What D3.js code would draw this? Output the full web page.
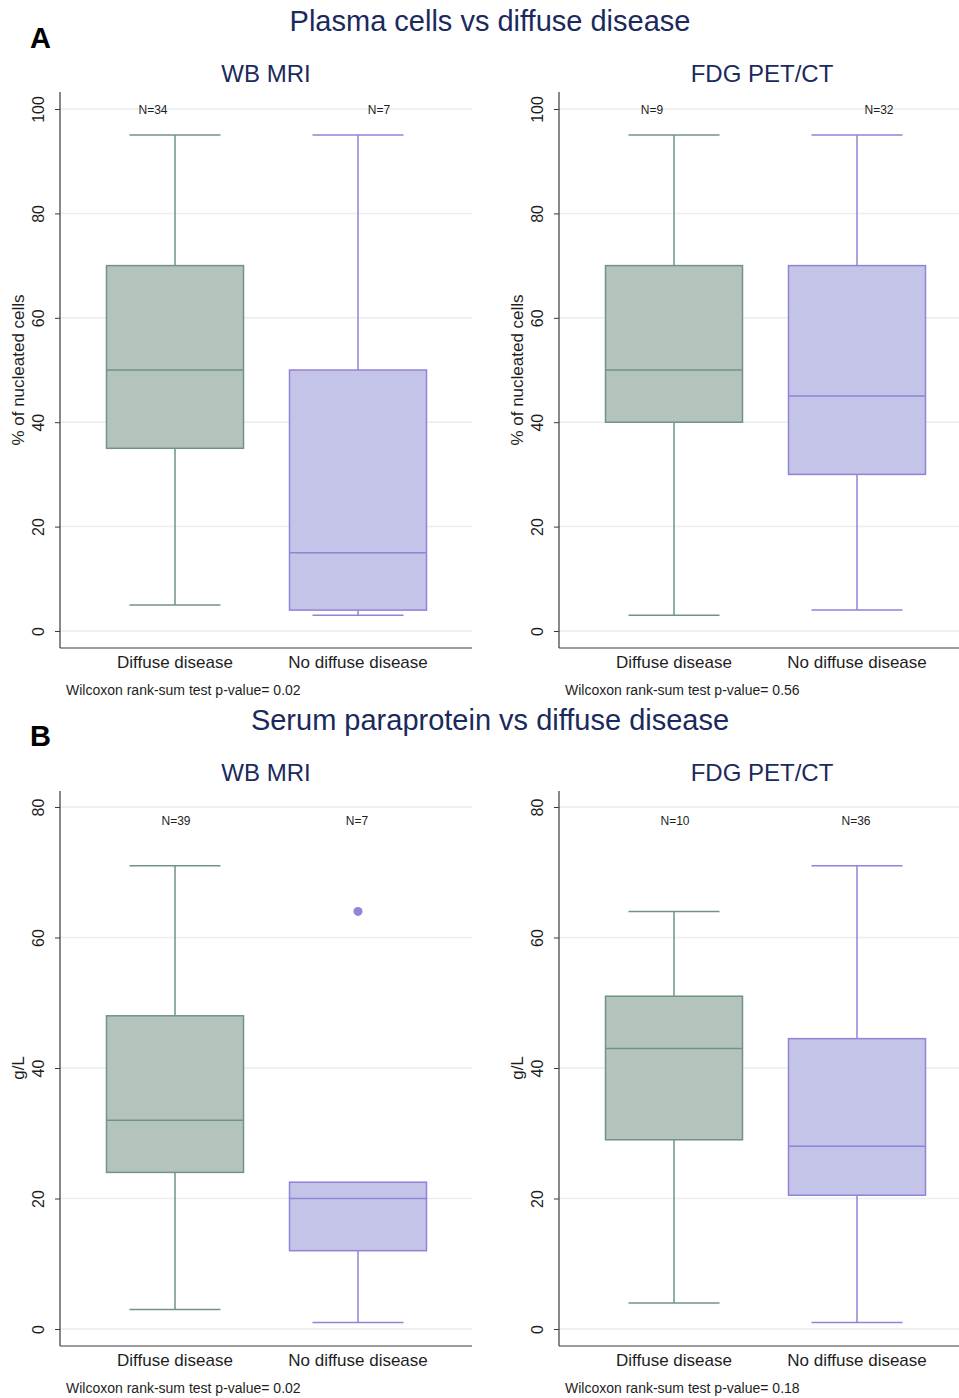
<!DOCTYPE html>
<html>
<head>
<meta charset="utf-8">
<script src="https://cdn.jsdelivr.net/npm/d3@7"></script>
<style>
  body { margin: 0; background: #fff; }
  svg { display: block; font-family: "Liberation Sans", Arial, Helvetica, sans-serif; }
</style>
</head>
<body>
<div id="chart"></div>
<script>
// ---- data ----
const categories = ["Diffuse disease", "No diffuse disease"];

// box stats: [low whisker, q1, median, q3, high whisker]
const plasmaMri = [[5, 35, 50, 70, 95], [3, 4, 15, 50, 95]];
const plasmaPet = [[3, 40, 50, 70, 95], [4, 30, 45, 70, 95]];
const serumMri = [[3, 24, 32, 48, 71], [1, 12, 20, 22.5, 22.5]];
const serumPet = [[4, 29, 43, 51, 64], [1, 20.5, 28, 44.5, 71]];

const serumMriOutliers = [[], [64]];
const noOutliers = [[], []];

const nPlasmaMri = [34, 7];
const nPlasmaPet = [9, 32];
const nSerumMri = [39, 7];
const nSerumPet = [10, 36];

const pPlasmaMri = "0.02";
const pPlasmaPet = "0.56";
const pSerumMri = "0.02";
const pSerumPet = "0.18";

const ticksPlasma = [0, 20, 40, 60, 80, 100];
const ticksSerum = [0, 20, 40, 60, 80];

// ---- style ----
const W = 959, H = 1398;
const FILL = ["#b4c4bc", "#c4c4e8"];
const STROKE = ["#6f9484", "#9282d8"];
const NAVY = "#1b2a5c";
const AXIS = "#3a3a3a";
const GRID = "#e6eef1";
const FONT_TXT = "#1e1e1e";

const svg = d3.select("#chart")
  .append("svg")
  .attr("width", W)
  .attr("height", H)
  .attr("viewBox", `0 0 ${W} ${H}`);

svg.append("rect").attr("width", W).attr("height", H).attr("fill", "#fff");

// section titles and letters
const sections = [
  { letter: "A", title: "Plasma cells vs diffuse disease", letterY: 48, titleY: 31 },
  { letter: "B", title: "Serum paraprotein vs diffuse disease", letterY: 746, titleY: 730 }
];
sections.forEach(s => {
  svg.append("text")
    .attr("x", 30).attr("y", s.letterY)
    .attr("font-size", "29px").attr("font-weight", "bold")
    .attr("fill", "#000")
    .text(s.letter);
  svg.append("text")
    .attr("x", 490).attr("y", s.titleY)
    .attr("text-anchor", "middle")
    .attr("font-size", "29px")
    .attr("fill", NAVY)
    .text(s.title);
});

const panels = [
  { sub: "WB MRI", stats: plasmaMri, out: noOutliers, n: nPlasmaMri, p: pPlasmaMri,
    ticks: ticksPlasma, yMax: 100, ytitle: "% of nucleated cells", subX: 266,
    x0: 60, x1: 472, top: 92, bottom: 648, y0: 631, yTopVal: 109, subY: 82, nY: 114, nDx: [-22, 21] },
  { sub: "FDG PET/CT", stats: plasmaPet, out: noOutliers, n: nPlasmaPet, p: pPlasmaPet,
    ticks: ticksPlasma, yMax: 100, ytitle: "% of nucleated cells", subX: 762,
    x0: 559, x1: 959, top: 92, bottom: 648, y0: 631, yTopVal: 109, subY: 82, nY: 114, nDx: [-22, 22] },
  { sub: "WB MRI", stats: serumMri, out: serumMriOutliers, n: nSerumMri, p: pSerumMri,
    ticks: ticksSerum, yMax: 80, ytitle: "g/L", subX: 266,
    x0: 60, x1: 472, top: 791, bottom: 1346, y0: 1329, yTopVal: 807, subY: 781, nY: 825, nDx: [1, -1] },
  { sub: "FDG PET/CT", stats: serumPet, out: noOutliers, n: nSerumPet, p: pSerumPet,
    ticks: ticksSerum, yMax: 80, ytitle: "g/L", subX: 762,
    x0: 559, x1: 959, top: 791, bottom: 1346, y0: 1329, yTopVal: 807, subY: 781, nY: 825, nDx: [1, -1] }
];

panels.forEach(pn => {
  const g = svg.append("g");

  const y = d3.scaleLinear().domain([0, pn.yMax]).range([pn.y0, pn.yTopVal]);
  const x = d3.scalePoint().domain(categories).range([pn.x0 + 115, pn.x0 + 298]);
  const boxW = 137, capW = 91;

  // subtitle
  g.append("text")
    .attr("x", pn.subX).attr("y", pn.subY)
    .attr("text-anchor", "middle")
    .attr("font-size", "24px")
    .attr("fill", NAVY)
    .text(pn.sub);

  // grid
  g.append("g")
    .selectAll("line")
    .data(pn.ticks)
    .enter()
    .append("line")
    .attr("x1", pn.x0).attr("x2", pn.x1)
    .attr("y1", d => y(d)).attr("y2", d => y(d))
    .attr("stroke", GRID).attr("stroke-width", 1.5);

  // y axis
  const ax = g.append("g")
    .attr("transform", `translate(${pn.x0},0)`)
    .call(d3.axisLeft(y).tickValues(pn.ticks).tickSize(5).tickSizeOuter(0));
  ax.select(".domain").remove();
  ax.selectAll(".tick line").attr("stroke", AXIS);
  ax.selectAll(".tick text")
    .attr("x", null).attr("dy", null)
    .attr("transform", "translate(-16,0) rotate(-90)")
    .attr("text-anchor", "middle")
    .attr("font-size", "16px")
    .attr("font-family", "'Liberation Sans', Arial, sans-serif")
    .attr("fill", FONT_TXT);
  g.append("line")
    .attr("x1", pn.x0).attr("x2", pn.x0)
    .attr("y1", pn.top).attr("y2", pn.bottom)
    .attr("stroke", AXIS).attr("stroke-width", 1.2);
  g.append("line")
    .attr("x1", pn.x0).attr("x2", pn.x1)
    .attr("y1", pn.bottom).attr("y2", pn.bottom)
    .attr("stroke", AXIS).attr("stroke-width", 1.2);

  // y title
  const midY = (y(0) + y(pn.yMax)) / 2;
  g.append("text")
    .attr("transform", `translate(${pn.x0 - 36},${midY}) rotate(-90)`)
    .attr("text-anchor", "middle")
    .attr("font-size", "17px")
    .attr("fill", FONT_TXT)
    .text(pn.ytitle);

  // boxes
  pn.stats.forEach((s, i) => {
    const cx = x(categories[i]);
    const [lo, q1, med, q3, hi] = s;
    const col = STROKE[i];
    // whiskers
    g.append("line").attr("x1", cx).attr("x2", cx).attr("y1", y(q3)).attr("y2", y(hi))
      .attr("stroke", col).attr("stroke-width", 1.5);
    g.append("line").attr("x1", cx).attr("x2", cx).attr("y1", y(q1)).attr("y2", y(lo))
      .attr("stroke", col).attr("stroke-width", 1.5);
    if (hi !== q3) {
      g.append("line").attr("x1", cx - capW / 2).attr("x2", cx + capW / 2)
        .attr("y1", y(hi)).attr("y2", y(hi)).attr("stroke", col).attr("stroke-width", 1.5);
    }
    g.append("line").attr("x1", cx - capW / 2).attr("x2", cx + capW / 2)
      .attr("y1", y(lo)).attr("y2", y(lo)).attr("stroke", col).attr("stroke-width", 1.5);
    // box
    g.append("rect")
      .attr("x", cx - boxW / 2).attr("width", boxW)
      .attr("y", y(q3)).attr("height", y(q1) - y(q3))
      .attr("fill", FILL[i]).attr("stroke", col).attr("stroke-width", 1.5);
    g.append("line").attr("x1", cx - boxW / 2).attr("x2", cx + boxW / 2)
      .attr("y1", y(med)).attr("y2", y(med)).attr("stroke", col).attr("stroke-width", 1.5);
    // outliers
    g.selectAll(null)
      .data(pn.out[i])
      .enter()
      .append("circle")
      .attr("cx", cx).attr("cy", d => y(d)).attr("r", 4.5)
      .attr("fill", "#8f86d6");
    // N label
    g.append("text")
      .attr("x", cx + pn.nDx[i]).attr("y", pn.nY)
      .attr("text-anchor", "middle")
      .attr("font-size", "12px")
      .attr("fill", FONT_TXT)
      .text("N=" + pn.n[i]);
    // category label
    g.append("text")
      .attr("x", cx).attr("y", pn.bottom + 20)
      .attr("text-anchor", "middle")
      .attr("font-size", "17px")
      .attr("fill", FONT_TXT)
      .text(categories[i]);
  });

  // test note
  g.append("text")
    .attr("x", pn.x0 + 6).attr("y", pn.bottom + 47)
    .attr("font-size", "14px")
    .attr("fill", FONT_TXT)
    .text("Wilcoxon rank-sum test p-value= " + pn.p);
});
</script>
</body>
</html>
